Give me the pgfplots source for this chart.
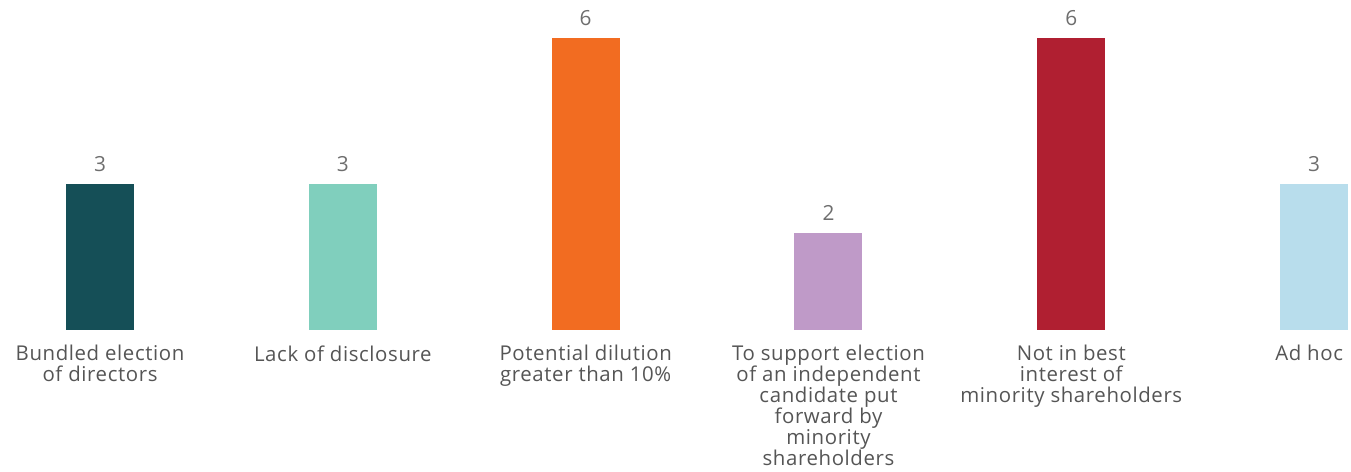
\documentclass[border=0pt]{standalone}
\usepackage{pgfplots}
\pgfplotsset{compat=1.18}
\usepackage{fontspec}
\setmainfont[LetterSpace=3]{Open Sans}
\definecolor{c1}{HTML}{154F57}
\definecolor{c2}{HTML}{80CFBD}
\definecolor{c3}{HTML}{F26C21}
\definecolor{c4}{HTML}{BF9AC8}
\definecolor{c5}{HTML}{B01F31}
\definecolor{c6}{HTML}{B8DDEC}
\definecolor{txt}{HTML}{555555}
\begin{document}
\begin{tikzpicture}
\begin{axis}[
  scale only axis,
  width=675.5pt, height=165pt,
  xmin=-0.412, xmax=5.152,
  ymin=0, ymax=6.78,
  axis line style={draw=none},
  ytick=\empty,
  xtick={0,1,2,3,4,5},
  major tick length=0pt,
  xticklabels={{Bundled election\\of directors},{Lack of disclosure},{Potential dilution\\greater than 10\%},{To support election\\of an independent\\candidate put\\forward by\\minority\\shareholders},{Not in best\\interest of\\minority shareholders},{Ad hoc\hspace*{5pt}}},
  xticklabel style={align=center, font=\fontsize{10.2pt}{10.5pt}\selectfont, text=txt, anchor=north, inner sep=0pt, yshift=-7.5pt},
  ybar, bar width=34pt, bar shift=0pt,
  nodes near coords,
  every node near coord/.append style={font=\fontsize{10.4pt}{12pt}\selectfont, text=txt!85, yshift=2.5pt, /pgf/number format/assume math mode=true},
  clip=false,
]
\addplot[fill=c1, draw=none] coordinates {(0,3)};
\addplot[fill=c2, draw=none] coordinates {(1,3)};
\addplot[fill=c3, draw=none] coordinates {(2,6)};
\addplot[fill=c4, draw=none] coordinates {(3,2)};
\addplot[fill=c5, draw=none] coordinates {(4,6)};
\addplot[fill=c6, draw=none] coordinates {(5,3)};
\coordinate (tl) at (rel axis cs:0,1);
\coordinate (br) at (rel axis cs:1,0);
\end{axis}
\pgfresetboundingbox
\path[use as bounding box] (tl) rectangle ([yshift=-70.5pt]br);
\end{tikzpicture}
\end{document}
